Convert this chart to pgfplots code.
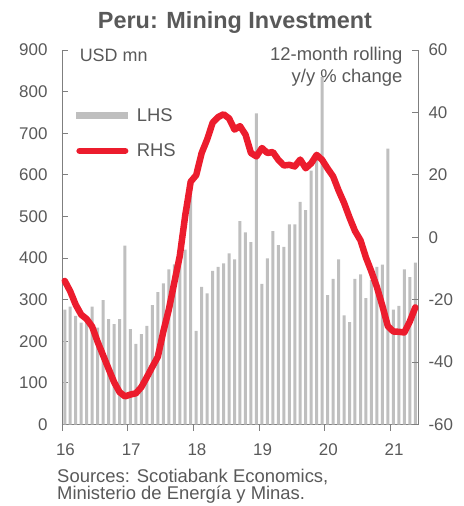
\documentclass[border=0pt]{standalone}
\usepackage{fontspec}
\setmainfont{Liberation Sans}
\usepackage{pgfplots}
\pgfplotsset{compat=1.18}
\usepackage{pgfplotstable}
\definecolor{txt}{HTML}{595959}
\definecolor{barc}{HTML}{BFBFBF}
\definecolor{redl}{HTML}{EC1C2D}
\definecolor{axc}{HTML}{7F7F7F}

\pgfplotstableread{
x bar rhs
16.042 276 -14.0
16.125 283 -17.3
16.208 261 -21.6
16.292 245 -24.8
16.375 250 -26.2
16.458 283 -28.6
16.542 233 -33.5
16.625 299 -37.8
16.708 253 -42.1
16.792 241 -46.4
16.875 253 -49.6
16.958 430 -51.0
17.042 229 -50.4
17.125 194 -50.0
17.208 217 -48.0
17.292 237 -44.8
17.375 287 -41.5
17.458 318 -38.3
17.542 339 -30.2
17.625 373 -23.2
17.708 385 -14.6
17.792 405 -6.0
17.875 420 7.0
17.958 550 17.8
18.042 225 19.9
18.125 331 27.0
18.208 315 31.3
18.292 369 36.7
18.375 379 38.5
18.458 387 39.4
18.542 411 38.1
18.625 397 34.5
18.708 489 35.6
18.792 462 32.9
18.875 438 27.0
18.958 748 25.9
19.042 338 28.6
19.125 399 27.0
19.208 465 27.3
19.292 431 24.8
19.375 427 23.0
19.458 481 23.2
19.542 481 22.7
19.625 535 24.9
19.708 515 22.1
19.792 610 23.7
19.875 640 26.4
19.958 835 24.8
20.042 311 22.0
20.125 350 19.5
20.208 397 15.0
20.292 262 11.0
20.375 246 6.3
20.458 350 2.0
20.542 361 -1.0
20.625 304 -6.5
20.708 347 -11.0
20.792 379 -16.0
20.875 384 -22.0
20.958 663 -28.5
21.042 276 -30.2
21.125 285 -30.3
21.208 373 -30.5
21.292 354 -27.0
21.375 389 -22.5
}\data

\begin{document}
\begin{tikzpicture}
\pgfplotsset{
  every axis/.append style={
    scale only axis, width=356bp, height=374.5bp,
    xmin=16, xmax=21.4167,
    clip=false,
    axis line style={axc, line width=0.8bp, -},
    tick style={axc, line width=0.8bp},
    major tick length=6bp,
    ticklabel style={font=\fontsize{17}{19}\selectfont, text=txt},
  }
}
\begin{axis}[
  ymin=0, ymax=900,
  axis y line*=left, axis x line*=bottom,
  xtick={16,17,18,19,20,21}, xticklabels={16,17,18,19,20,21},
  xtick align=outside, ytick align=inside,
  ytick={0,100,200,300,400,500,600,700,800,900},
  yticklabels={0,100,200,300,400,500,600,700,800,900},
  xticklabel style={xshift=3.5bp, yshift=-9.5bp},
  yticklabel style={xshift=-11bp},
  legend style={at={(rel axis cs:0.03,0.85)}, anchor=north west, draw=none, fill=none,
    font=\fontsize{18.5}{20}\selectfont, text=txt, inner sep=0pt, row sep=17bp,
    cells={anchor=west}},
  legend image code/.code={\draw[#1] (0bp,0bp) -- (52bp,0bp); \path (55bp,0bp);},
]
\addplot[ybar, bar width=3bp, fill=barc, draw=none, forget plot] table[x=x, y=bar] {\data};
\addlegendimage{barc, line width=7bp}
\addlegendentry{LHS}
\addlegendimage{redl, line width=6.5bp, line cap=round, shorten <=3.25bp, shorten >=3.25bp}
\addlegendentry{RHS}
\node[anchor=west, text=txt, font=\fontsize{18}{22}\selectfont] at (rel axis cs:0.04,0.987) {USD mn};
\node[anchor=north east, align=right, text=txt, font=\fontsize{18.5}{22}\selectfont] at (rel axis cs:0.966,1.018) {12-month rolling\\y/y \% change};
\node[text=txt, font=\fontsize{23.5}{26}\selectfont\bfseries] at (rel axis cs:0.486,1.074) {Peru: Mining Investment};
\node[anchor=north west, align=left, inner sep=0pt, text=txt, font=\fontsize{18.5}{17.5}\selectfont] at (rel axis cs:-0.014,-0.1175) {Sources: Scotiabank Economics,\\Ministerio de Energía y Minas.};
\end{axis}
\begin{axis}[
  ymin=-60, ymax=60,
  axis y line*=right, axis x line=none,
  ytick align=inside,
  ytick={-60,-40,-20,0,20,40,60},
  yticklabels={-60,-40,-20,0,20,40,60},
  yticklabel style={xshift=7bp},
]
\addplot[redl, line width=6.5bp, line join=round, line cap=round] table[x=x, y=rhs] {\data};
\end{axis}
\pgfresetboundingbox
\useasboundingbox (-62bp,-81.5bp) rectangle (402bp,424.5bp);
\end{tikzpicture}
\end{document}
